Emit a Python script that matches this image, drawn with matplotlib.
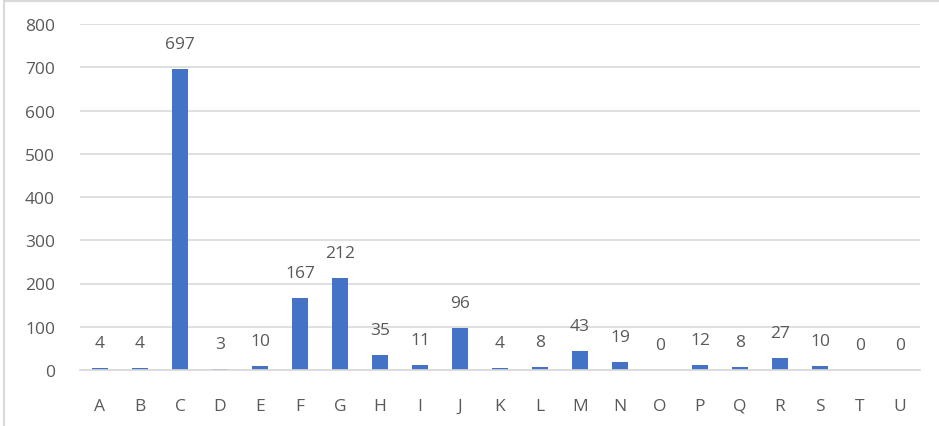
import matplotlib
matplotlib.use('Agg')
from matplotlib import pyplot as plt
from matplotlib.patches import Rectangle

categorias = ['A', 'B', 'C', 'D', 'E', 'F', 'G', 'H', 'I', 'J', 'K',
              'L', 'M', 'N', 'O', 'P', 'Q', 'R', 'S', 'T', 'U']
valores = [4, 4, 697, 3, 10, 167, 212, 35, 11, 96, 4,
           8, 43, 19, 0, 12, 8, 27, 10, 0, 0]
ticks_y = [0, 100, 200, 300, 400, 500, 600, 700, 800]

plt.rcParams['font.family'] = ['Open Sans', 'DejaVu Sans']
cinza = '#595959'

fig = plt.figure(figsize=(9.39, 4.27), dpi=100)
ax = fig.add_axes([80 / 939, 1 - 371 / 427, 840 / 939, 346 / 427])

x = list(range(len(categorias)))
ax.bar(x, valores, width=0.42, color='#4472C4', zorder=2)

for xi, v in zip(x, valores):
    ax.annotate(str(v), (xi, v), xytext=(0, 18), textcoords='offset points',
                ha='center', va='center', fontsize=12.5, color=cinza)

ax.set_xlim(-0.5, len(categorias) - 0.5)
ax.set_ylim(0, 800)
ax.set_yticks(ticks_y)
ax.set_xticks(x)
ax.set_xticklabels(categorias)
ax.grid(axis='y', color='#d9d9d9', linewidth=1.2, zorder=0)
ax.tick_params(axis='both', length=0, labelsize=12.5, labelcolor=cinza)
ax.tick_params(axis='y', pad=18)
ax.tick_params(axis='x', pad=20)
for lado in ['top', 'right', 'left']:
    ax.spines[lado].set_visible(False)
ax.spines['bottom'].set_color('#d9d9d9')
ax.spines['bottom'].set_linewidth(1.2)
ax.spines['bottom'].set_zorder(3)

# moldura clara (só aparecem a borda esquerda e a de cima)
fig.patches.append(Rectangle((4 / 939, -10 / 427), 950 / 939, 435 / 427,
                             transform=fig.transFigure, fill=False,
                             edgecolor='#d9d9d9', linewidth=1.5))

plt.savefig('out.png', dpi=100)
